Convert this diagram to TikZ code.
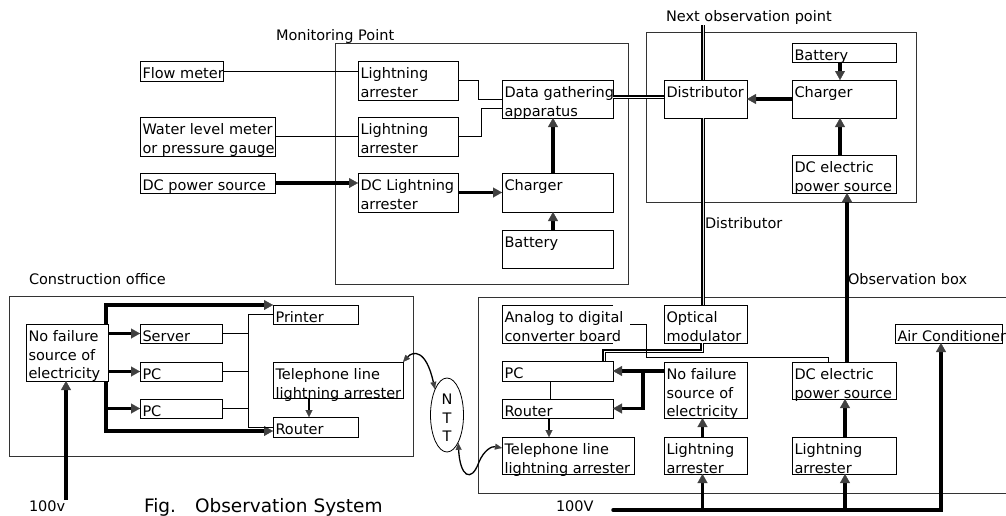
\documentclass[tikz,border=0pt]{standalone}
\usepackage{fontspec}
\setmainfont{DejaVu Sans}
\usetikzlibrary{arrows.meta,shapes.geometric}

% A labelled box: [extra style]{name}{x}{y}{width}{height}{text}
\newcommand\mkbox[7][]{%
  \node[boxframe,#1,minimum width=#5pt,minimum height=#6pt,anchor=north west] (#2) at (#3,#4) {};
  \node[boxtext,anchor=north west] (#2-t) at (#2.north west) {\rule{0pt}{13.2pt}#7};
}

\begin{document}
\begin{tikzpicture}[x=1pt,y=-1pt,
  boxframe/.style={draw=black,line width=1pt,fill=white,inner sep=0pt,outer sep=0pt},
  boxtext/.style={inner xsep=2.5pt,inner ysep=4.5pt,outer sep=0pt,align=left,
    font=\fontsize{14.5}{18.5}\selectfont},
  lbl/.style={inner sep=0pt,outer sep=0pt,anchor=base west,
    font=\fontsize{14.5}{18.5}\selectfont},
  frame/.style={draw=black!80,line width=0.8pt},
  thinl/.style={draw=black,line width=0.8pt},
  pow/.style={draw=black,line width=3.5pt,-{Triangle[length=9pt,width=10pt,line width=0.2pt,color=black!75]}},
  sig/.style={draw=black,line width=1.4pt,-{Triangle[length=7pt,width=7pt,line width=0.2pt,color=black!75]}},
  curv/.style={draw=black,line width=1.3pt,
    {Triangle[length=7pt,width=6pt,line width=0.2pt,color=black!75]}-{Triangle[length=7pt,width=6pt,line width=0.2pt,color=black!75]}},
  % two-wire lines: a black stroke split by a thin white core
  dbl/.style={draw=black,line width=4.6pt,postaction={draw=white!40!black!20,line width=0.5pt}},
  dblmid/.style={draw=black,line width=4.2pt,postaction={draw=white,line width=1pt}},
  dblthin/.style={draw=black,line width=3.2pt,postaction={draw=white,line width=0.9pt}},
]
\useasboundingbox (0,0) rectangle (1006,515);

% ---------- frames ----------
\draw[frame] (335,43) rectangle (628,284);
\draw[frame] (646,32) rectangle (916,202);
\draw[frame] (9,296) rectangle (413,456);
\draw[frame] (1010,297) -- (478,297) -- (478,493) -- (1010,493);

% ---------- frame labels ----------
\node[lbl] (mp-l) at (276,40.5) {Monitoring Point};
\node[lbl] (nop-l) at (666,21.5) {Next observation point};
\node[lbl] (dist-l) at (705,228) {Distributor};
\node[lbl] (co-l) at (29,284) {Construction office};
\node[lbl] (ob-l) at (848,284) {Observation box};
\node[lbl] (v1-l) at (29,511.5) {100v};
\node[lbl] (v2-l) at (556,511.5) {100V};
\node[lbl,font=\fontsize{18.5}{22}\selectfont] (title) at (144,512.5) {Fig.\hspace{0.6em} Observation System};

% ---------- monitoring point ----------
\mkbox{flow}{140}{61}{83}{20}{Flow meter}
\mkbox{water}{140}{117}{135}{39}{Water level meter\\or pressure gauge}
\mkbox{dcps}{140}{173}{135}{20}{DC power source}
\mkbox{la1}{358}{61}{100}{39}{Lightning\\arrester}
\mkbox{la2}{358}{117}{100}{39}{Lightning\\arrester}
\mkbox{dcla}{358}{173}{100}{39}{DC Lightning\\arrester}
\mkbox{dg}{502}{80}{111}{38}{Data gathering\\apparatus}
\mkbox{chg}{502}{173}{111}{39}{Charger}
\mkbox{bat}{502}{230}{111}{38}{Battery}

% ---------- next observation point ----------
\mkbox{dist}{664}{80}{83}{38}{Distributor}
\mkbox{bat2}{792}{43}{104}{19}{Battery}
\mkbox{chg2}{792}{80}{104}{38}{Charger}
\mkbox{dcep1}{792}{155}{104}{38}{DC electric\\power source}

% ---------- construction office ----------
\mkbox{nfs1}{26}{324}{82}{57}{No failure\\source of\\electricity}
\mkbox{server}{140}{324}{82}{19}{Server}
\mkbox{pc1}{140}{362}{82}{19}{PC}
\mkbox{pc2}{140}{399}{82}{19}{PC}
\mkbox{printer}{273}{305}{85}{19}{Printer}
\mkbox{tla1}{273}{362}{130}{36}{Telephone line\\lightning arrester}
\mkbox{router1}{273}{417}{85}{20}{Router}

% ---------- observation box ----------
\mkbox[draw=none]{ad}{502}{305}{111}{38}{Analog to digital\\converter board}
\draw[line width=1pt] (ad.north east) -- (ad.north west) -- (ad.south west) -- (ad.south east);
\mkbox{om}{664}{305}{83}{38}{Optical\\modulator}
\mkbox{pc3}{502}{361}{111}{20}{PC}
\mkbox{r3}{502}{399}{111}{19}{Router}
\mkbox{tla2}{502}{437}{132}{37}{Telephone line\\lightning arrester}
\mkbox{nfs2}{664}{362}{83}{56}{No failure\\source of\\electricity}
\mkbox{dcep2}{792}{362}{104}{37}{DC electric\\power source}
\mkbox{la3}{664}{437}{83}{37}{Lightning\\arrester}
\mkbox{la4}{792}{437}{104}{37}{Lightning\\arrester}
\mkbox{ac}{895}{324}{107}{19}{Air Conditioner}

% ---------- NTT ----------
\node[draw=black,line width=0.8pt,ellipse,minimum width=33pt,minimum height=74pt,inner sep=0pt,fill=white] (ntt) at (447,415) {};
\node[inner sep=0pt,align=center,font=\fontsize{14.5}{18.5}\selectfont] (ntt-t) at (447,418) {N\\T\\T};

% ---------- connectors: monitoring point ----------
\draw[thinl] (flow.east) -- (flow.east -| la1.west);
\draw[thinl] (water.east) -- (water.east -| la2.west);
\draw[pow] (dcps.east) -- (dcps.east -| dcla.west);
\draw[thinl] (la1.east) -- ++(20,0) |- (dg.west);
\draw[thinl] (la2.east) -- ++(23,0) |- ([yshift=-9pt]dg.west);
\draw[pow] (dcla.east) -- (chg.west);
\draw[pow] ([xshift=-4.5pt]chg.north) -- ([xshift=-4.5pt]dg.south);
\draw[pow] ([xshift=-4.5pt]bat.north) -- ([xshift=-4.5pt]chg.south);
\draw[dblmid] ([yshift=2pt]dg.east) -- ([yshift=2pt]dist.west);

% ---------- connectors: next observation point ----------
\coordinate (nxt) at (703,25);
\draw[dbl] (nxt) -- (nxt |- dist.north);
\draw[dbl] (nxt |- dist.south) -- (nxt |- om.north);
\draw[pow] ([xshift=-4pt]bat2.south) -- ([xshift=-4pt]chg2.north);
\draw[pow] ([xshift=-4pt]dcep1.north) -- ([xshift=-4pt]chg2.south);
\draw[pow] (chg2.west) -- (dist.east);
\draw[pow] ([xshift=3pt]dcep2.north) -- ([xshift=3pt]dcep1.south);

% ---------- connectors: construction office ----------
\coordinate (bt) at (106,305);
\coordinate (bb) at (106,431);
\coordinate (hubx) at (248,314);
\draw[pow,{Triangle[length=9pt,width=10pt,line width=0.2pt,color=black!75]}-] (printer.north west) -- (bt) -- (bt |- nfs1.north);
\draw[pow] (bb |- nfs1.south) -- (bb) -- (bb -| router1.west);
\draw[pow] (nfs1.east |- server.west) -- (server.west);
\draw[pow] (nfs1.east |- pc1.west) -- (pc1.west);
\draw[pow] (bt |- pc2.west) -- (pc2.west);
\draw[thinl] (server.east) -- (server.east -| hubx);
\draw[thinl] (pc1.east) -- (pc1.east -| hubx);
\draw[thinl] (pc2.east) -- (pc2.east -| hubx);
\draw[thinl] (printer.west) -| (hubx |- router1.west) -- (router1.west);
\draw[sig] ([xshift=36pt]tla1.south west) -- ([xshift=36pt]tla1.south west |- router1.north);
\coordinate (p100) at (66,500);
\draw[pow] (p100) -- (p100 |- nfs1.south);

% ---------- connectors: NTT lines ----------
\draw[curv] (tla1.north east) .. controls (413,351) and (426,349) .. (ntt.115);
\draw[curv] (ntt.-68) .. controls (460,476) and (471,484) .. (479,462)
  .. controls (484,450) and (492,446) .. ([yshift=7.5pt]tla2.west);

% ---------- connectors: observation box ----------
\draw[dblthin] ([xshift=-3.5pt]om.south) -- ++(0,8) -| ([xshift=-9pt]pc3.north east);
\draw[thinl] ([xshift=17pt]ad.east) -- ++(16,0) |- ([xshift=-16pt,yshift=5pt]dcep2.north) -- ([xshift=-16pt]dcep2.north);
\draw[thinl] ([xshift=-7pt]pc3.south) -- ([xshift=-7pt]r3.north);
\draw[sig] ([xshift=-8.5pt]r3.south) -- ([xshift=-8.5pt]r3.south |- tla2.north);
\coordinate (jn) at (643,371);
\draw[pow] (nfs2.west |- pc3.east) -- (pc3.east);
\draw[pow] (jn) |- (r3.east);
\draw[pow] ([xshift=-3pt]la3.north) -- ([xshift=-3pt]nfs2.south);
\draw[pow] ([xshift=1pt]la4.north) -- ([xshift=1pt]dcep2.south);

% ---------- 100V supply line ----------
\coordinate (bus0) at (613,510);
\draw[pow,line cap=round] (bus0) -| ([xshift=-7.5pt]ac.south);
\draw[pow] ([xshift=-3pt]la3.south |- bus0) -- ([xshift=-3pt]la3.south);
\draw[pow] ([xshift=1pt]la4.south |- bus0) -- ([xshift=1pt]la4.south);

\end{tikzpicture}
\end{document}
